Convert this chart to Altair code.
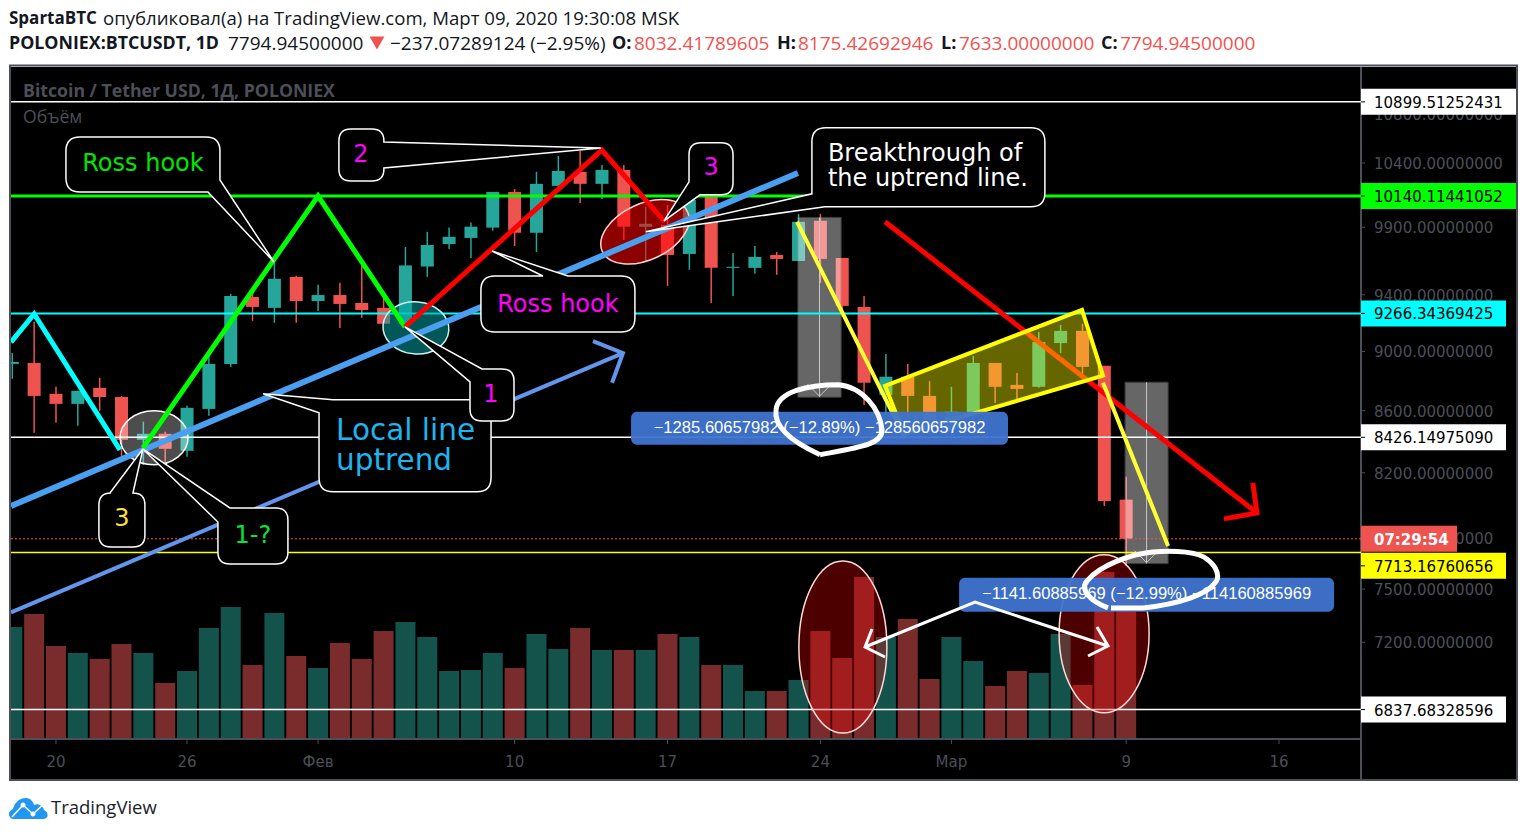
import altair as alt
import pandas as pd

# ---- data -----------------------------------------------------------------
days = list(range(-2, 50))   # days after 20 Jan 2020
opens = [8914,8921,8712,8645,8752,8691,8410,8449,8339,8612,8914,9384,9306,9530,9355,9398,9341,9306,9193,9606,9773,9819,9897,10172,9858,10219,10330,10235,10345,9903,9918,9699,10140,9596,9596,9691,9647,9949,9669,9313,8705,8827,8698,8475,8573,8921,8772,8759,9058,9143,8901,8032.42]
closes = [8928,8698,8645,8732,8691,8410,8449,8352,8619,8914,9391,9313,9516,9355,9398,9334,9291,9193,9614,9766,9827,9904,10172,9858,10235,10337,10235,10345,9904,9926,9691,10109,9596,9604,9677,9662,9941,9662,9320,8786,8827,8698,8541,8593,8921,8759,8745,9065,9143,8894,8024,7794.95]
highs = [8989,9207,8759,8732,8820,8698,8528,8462,8632,8995,9406,9450,9640,9538,9472,9487,9614,9377,9751,9865,9897,9936,10172,10195,10330,10456,10496,10384,10384,10056,10071,10150,10188,9706,9758,9713,10001,10001,9669,9391,8982,8914,8799,8759,8968,8921,8853,9136,9186,9193,8901,8175.43]
lows = [8813,8456,8521,8501,8599,8307,8250,8269,8301,8567,8894,9214,9200,9200,9284,9164,9235,9193,9193,9530,9736,9669,9873,9758,9713,10219,10086,10117,9804,9640,9464,9582,9340,9391,9552,9545,9647,9486,9242,8638,8573,8573,8475,8410,8541,8651,8664,8752,8989,8827,7994,7633]
volumes = [112,125,93,86,80,95,86,56,68,111,132,74,126,83,71,96,80,108,117,102,68,69,86,71,105,90,111,89,89,89,105,102,74,74,48,48,59,108,81,162,102,120,60,102,78,53,68,66,105,54,167,140]

price_ticks = [10800,10400,9900,9400,9000,8600,8200,7800,7500,7200,6820]
time_ticks = [0,6,12,21,28,35,41,49,56]
time_labels = ["20","26","Фев","10","17","24","Мар","9","16"]

level_prices = [10899.51252431,10140.11441052,9266.34369425,8426.14975090,7713.16760656,6837.68328596]
tag_prices = [10899.51252431,10140.11441052,9266.34369425,8426.14975090,7635,6837.68328596]
level_colors = ["#ffffff","#00ff00","#00ffff","#ffffff","#ffff00","#ffffff"]
level_widths = [1.5,3,2,1.5,1.5,1.5]
level_tags = [155,155,145,145,145,145]
last_price = 7794.945

TEAL, RED = "#26a69a", "#ef5350"
VTEAL, VRED = "#14534c", "#7a2b2b"
GRAY = "#4c4e58"
FONT = "DejaVu Sans"
HFONT = "Open Sans"

# ---- scales ---------------------------------------------------------------
W, H = 1505, 712
AX_X, AX_Y = 1350, 672
xs = alt.Scale(domain=[-2.06, 66.85], range=[0, W], nice=False, zero=False)
ys = alt.Scale(type="log", domain=[6685, 11195], range=[AX_Y, 0], nice=False)
vs = alt.Scale(domain=[0, 200], range=[AX_Y, AX_Y - 200], nice=False, zero=True)
X = alt.X("d:Q", scale=xs, axis=None)
Y = alt.Y("p:Q", scale=ys, axis=None)
Y2 = alt.Y2("p2:Q")
one = lambda d, p: pd.DataFrame({"d": [d], "p": [p]})

# ---- helpers --------------------------------------------------------------
def line(ds, ps, color, w):
    df = pd.DataFrame({"d": ds, "p": ps, "i": range(len(ds))})
    return alt.Chart(df).mark_line(color=color, strokeWidth=w, strokeCap="butt", strokeJoin="miter", clip=False).encode(
        x=X, y=Y, order="i:Q")

def shape(d, p, path, fill=None, stroke="#fff", sw=1.5, fo=1.0, angle=0):
    kw = dict(shape=path, size=4, stroke=stroke, strokeWidth=sw, opacity=1, angle=angle)
    if fill:
        kw.update(filled=True, fill=fill, fillOpacity=fo)
    else:
        kw.update(filled=False)
    return alt.Chart(one(d, p)).mark_point(**kw).encode(x=X, y=Y)

def ellipse(d, p, rx, ry, fill, fo, stroke, angle=0):
    path = f"M{-rx} 0A{rx} {ry} 0 1 1 {rx} 0A{rx} {ry} 0 1 1 {-rx} 0Z"
    return shape(d, p, path, fill=fill, stroke=stroke, sw=1.5, fo=fo, angle=angle)

def bubble(x0, y0, x1, y1, a, b, where, r=14):
    tail = f"L{a[0]} {a[1]}L0 0L{b[0]} {b[1]}"
    s = f"M{x0+r} {y0}"
    if where == "T": s += tail
    s += f"L{x1-r} {y0}Q{x1} {y0} {x1} {y0+r}"
    if where == "R": s += tail
    s += tail if where == "BR" else f"L{x1} {y1-r}Q{x1} {y1} {x1-r} {y1}"
    s += tail if where == "BL" else f"L{x0+r} {y1}Q{x0} {y1} {x0} {y1-r}"
    s += tail if where == "TL" else f"L{x0} {y0+r}Q{x0} {y0} {x0+r} {y0}"
    return s + "Z"

def label(d, p, txt, dx, dy, color, size=24, align="center"):
    return alt.Chart(one(d, p)).mark_text(text=txt, dx=dx, dy=dy + 1.5, color=color, fontSize=size, font=FONT,
                                          align=align, baseline="middle").encode(x=X, y=Y)

def header(txt, x, y, color="#131722", bold=False, size=19, font=HFONT):
    return alt.Chart(one(0, 0)).mark_text(text=txt, color=color, fontSize=size, font=font, align="left", baseline="middle",
                                          fontWeight="bold" if bold else "normal").encode(
        x=alt.value(x), y=alt.value(y))

def logo_part(path, fill=None, stroke=None, sw=0):
    kw = dict(shape=path, size=4, opacity=1, strokeWidth=sw)
    if fill:
        kw.update(filled=True, fill=fill, stroke=fill)
    else:
        kw.update(filled=False, stroke=stroke)
    return alt.Chart(one(0, 0)).mark_point(**kw).encode(x=alt.value(17), y=alt.value(742))

# ---- base marks -----------------------------------------------------------
cdf = pd.DataFrame({"d": days, "o": opens, "c": closes, "h": highs, "l": lows, "v": volumes})
cdf["col"] = [TEAL if c >= o else RED for o, c in zip(opens, closes)]
cdf["vcol"] = [VTEAL if c >= o else VRED for o, c in zip(opens, closes)]
cdf["zero"] = 0

vol = alt.Chart(cdf).mark_rule(strokeWidth=20, clip=True).encode(
    x=X, y=alt.Y("v:Q", scale=vs, axis=None), y2="zero:Q",
    color=alt.Color("vcol:N", scale=None))

wicks = alt.Chart(cdf).mark_rule(strokeWidth=1.5, clip=True).encode(
    x=X, y=alt.Y("l:Q", scale=ys, axis=None), y2="h:Q", color=alt.Color("col:N", scale=None))
bodies = alt.Chart(cdf).mark_rule(strokeWidth=13, clip=True).encode(
    x=X, y=alt.Y("o:Q", scale=ys, axis=None), y2="c:Q", color=alt.Color("col:N", scale=None))

layers = [wicks, bodies]

# axis frame lines, ticks and labels
layers.append(alt.Chart(one(0, 0)).mark_rule(color=GRAY, strokeWidth=2).encode(x=alt.value(AX_X)))
layers.append(alt.Chart(one(0, 0)).mark_rule(color=GRAY, strokeWidth=2).encode(
    x=alt.value(0), x2=alt.value(AX_X), y=alt.value(AX_Y)))
pt = pd.DataFrame({"p": price_ticks, "t": [f"{v:.8f}" for v in price_ticks]})
layers.append(alt.Chart(pt).mark_rule(color=GRAY, strokeWidth=1).encode(y=Y, x=alt.value(AX_X), x2=alt.value(AX_X + 4)))
layers.append(alt.Chart(pt).mark_text(color=GRAY, fontSize=15, dy=1, font=FONT, align="left", baseline="middle").encode(
    y=Y, x=alt.value(AX_X + 13), text="t:N"))
tt = pd.DataFrame({"d": time_ticks, "t": time_labels})
layers.append(alt.Chart(tt).mark_rule(color=GRAY, strokeWidth=1).encode(x=X, y=alt.value(AX_Y), y2=alt.value(AX_Y + 5)))
layers.append(alt.Chart(tt).mark_text(color=GRAY, fontSize=15, font=FONT, baseline="middle").encode(
    x=X, y=alt.value(AX_Y + 23), text="t:N"))

# measure rectangles
for d0, d1, top, bot in [(33.97, 35.95, 9975, 8690), (48.95, 50.92, 8790, 7648)]:
    mid = (d0 + d1) / 2
    df = pd.DataFrame({"d": [d0], "d2": [d1], "p": [top], "p2": [bot]})
    layers.append(alt.Chart(df).mark_rect(fill="#ffffff", opacity=0.4, stroke="#9a9a9a", strokeWidth=1).encode(
        x=X, x2="d2:Q", y=Y, y2=Y2))
    df2 = pd.DataFrame({"d": [mid], "p": [top], "p2": [bot]})
    layers.append(alt.Chart(df2).mark_rule(color="#c8c8c8", strokeWidth=1).encode(x=X, y=Y, y2=Y2))
    layers.append(shape(mid, bot, "M-12 -13L0 -1L12 -13", stroke="#c8c8c8", sw=1))

# price levels
for p, c, w in zip(level_prices, level_colors, level_widths):
    layers.append(alt.Chart(one(0, p)).mark_rule(color=c, strokeWidth=w).encode(y=Y, x=alt.value(0), x2=alt.value(AX_X)))
layers.append(alt.Chart(one(0, last_price)).mark_rule(color=RED, strokeWidth=1, strokeDash=[2, 2]).encode(
    y=Y, x=alt.value(0), x2=alt.value(AX_X)))

# ellipses
layers += [
    ellipse(26.97, 9865, 47, 28, "#ff0000", 0.55, "#ffd0d0", angle=335),
    ellipse(16.48, 9164, 33, 26, "#00a0a0", 0.55, "#c8f5f0", angle=5),
    ellipse(4.49, 8423, 34, 27, "#ffffff", 0.3, "#ffffff"),
    ellipse(36.03, 7174, 44, 86, "#ff0000", 0.3, "#ffd8d8"),
    ellipse(47.99, 7247, 45, 79, "#ff0000", 0.3, "#ffd8d8"),
]

# trend lines
layers += [
    line([-2.06, 33.97], [7994, 10321], "#4a9ff0", 6),
    line([-2.06, 25.96], [7367, 8989], "#6495ed", 4),
    line([24.59, 25.96, 25.46], [9072, 8989, 8786], "#6495ed", 4),
    line([-2.06, -1.0, 2.93], [9065, 9263, 8345], "#00ffff", 5),
    line([3.98, 12.0, 15.98], [8358, 10140, 9171], "#00ff00", 5),
    line([15.98, 24.99, 27.88], [9171, 10504, 9941], "#ff0000", 5),
    line([37.96, 54.99], [9941, 7951], "#ff0000", 5),
    line([54.8, 54.99, 53.48], [8137, 7951, 7915], "#ff0000", 5),
    line([33.93, 38.87], [9941, 8423], "#ffff33", 4),
    line([47.94, 50.92], [8786, 7752], "#ffff33", 4),
]
# rising flag
layers.append(shape(37.96, 8766, "M0 0L197 -76L218 -10L19 48Z", fill="#ffff00", stroke="#ffff00", sw=4, fo=0.4))

# callouts
bub = [
    (9.98, 9640, (-208, -125, -54, -70, (-54, -82), (-66, -70), "BR", 14)),
    (24.95, 10520, (-262, -19, -217, 33, (-217, -6), (-217, 20), "R", 12)),
    (9.48, 8712, (56, 6, 228, 98, (56, 19), (70, 6), "TL", 14)),
    (15.98, 9171, (65, 42, 109, 94, (65, 55), (77, 42), "TL", 12)),
    (19.96, 9721, (-11, 25, 143, 81, (51, 25), (76, 25), "T", 14)),
    (27.84, 9949, (25, -78, 69, -26, (36, -26), (25, -39), "BL", 12)),
    (27.01, 9865, (166, -104, 399, -25, (179, -25), (166, -38), "BL", 14)),
    (3.98, 8351, (-44, 44, 2, 98, (-33, 44), (-10, 44), "T", 12)),
    (3.98, 8351, (75, 59, 145, 115, (75, 73), (87, 59), "TL", 12)),
]
for d, p, a in bub:
    layers.append(shape(d, p, bubble(*a), fill="#000000", stroke="#ffffff", sw=1.5))
layers += [
    label(9.98, 9640, "Ross hook", -131, -99, "#00e600"),
    label(24.95, 10520, "2", -240, 5, "#ff00ff"),
    label(15.98, 9171, "1", 86, 67, "#ff00ff"),
    label(19.96, 9721, "Ross hook", 66, 52, "#ff00ff"),
    label(27.84, 9949, "3", 47, -54, "#ff00ff"),
    label(27.01, 9865, "Breakthrough of", 182, -79, "#ffffff", align="left"),
    label(27.01, 9865, "the uptrend line.", 182, -54, "#ffffff", align="left"),
    label(9.48, 8712, "Local line", 73, 36, "#1eb4ee", size=29.5, align="left"),
    label(9.48, 8712, "uptrend", 73, 66, "#1eb4ee", size=29.5, align="left"),
    label(3.98, 8351, "3", -21, 69, "#ffe135"),
    label(3.98, 8351, "1-?", 110, 86, "#00e640"),
]

# measure labels
for d0, d1, top, bot, mid, txt in [
    (26.33, 43.59, 8593, 8378, 8485, "−1285.60657982 (−12.89%) −128560657982"),
    (41.35, 58.52, 7565, 7370, 7472, "−1141.60885969 (−12.99%) −114160885969"),
]:
    df = pd.DataFrame({"d": [d0], "d2": [d1], "p": [top], "p2": [bot]})
    layers.append(alt.Chart(df).mark_rect(fill="#3f74d0", opacity=0.95, cornerRadius=6).encode(
        x=X, x2="d2:Q", y=Y, y2=Y2))
    layers.append(alt.Chart(one((d0 + d1) / 2, mid)).mark_text(text=txt, color="#ffffff", fontSize=16.6, font="Liberation Sans",
                                                               baseline="middle").encode(x=X, y=Y))

# hand-drawn marks
layers += [
    shape(35.35, 8541, "M-8 35C-30 25 -55 10 -52 -10C-50 -28 -20 -35 10 -35C35 -33 52 -10 54 10C55 25 30 28 -8 35", sw=5),
    shape(50.09, 7553, "M-42 28C-58 22 -72 10 -62 0C-50 -14 -20 -26 3 -28C25 -30 50 -28 58 -20C68 -12 70 -2 65 3C58 14 30 24 -7 28L-39 28", sw=5),
    shape(42.08, 7426, "M-110 45L0 0L133 44M-103 27L-110 45L-90 55M122 25L133 44L113 54", sw=3),
]

# price tags
tag_text = [f"{p:.8f}" for p in level_prices]
for p, c, w, t in zip(tag_prices, level_colors, level_tags, tag_text):
    layers.append(alt.Chart(one(0, p)).mark_rule(color=c, strokeWidth=26).encode(
        y=Y, x=alt.value(AX_X), x2=alt.value(AX_X + w)))
    layers.append(alt.Chart(one(0, p)).mark_rule(color="#000000", strokeWidth=1).encode(
        y=Y, x=alt.value(AX_X), x2=alt.value(AX_X + 4)))
    layers.append(alt.Chart(one(0, p)).mark_text(text=t, color="#000000", fontSize=15, dy=1, font=FONT, align="left",
                                                 baseline="middle").encode(y=Y, x=alt.value(AX_X + 13)))
layers.append(alt.Chart(one(0, last_price)).mark_rule(color=RED, strokeWidth=26).encode(
    y=Y, x=alt.value(AX_X), x2=alt.value(AX_X + 96)))
layers.append(alt.Chart(one(0, last_price)).mark_text(text="07:29:54", color="#ffffff", fontSize=15, dy=1, font=FONT, fontWeight="bold",
                                                      align="left", baseline="middle").encode(y=Y, x=alt.value(AX_X + 13)))

# outer frame
layers.append(alt.Chart(one(0, 0)).mark_rect(fillOpacity=0, stroke=GRAY, strokeWidth=2).encode(
    x=alt.value(-1), x2=alt.value(W + 1), y=alt.value(-1.5), y2=alt.value(H + 1)))

# chart texts
layers += [
    header("Bitcoin / Tether USD, 1Д, POLONIEX", 12, 25, color=GRAY, bold=True, size=17.7),
    header("Объём", 12, 51, color=GRAY, size=17.7),
    header("SpartaBTC", -2, -48, bold=True, size=17),
    header("опубликовал(а) на TradingView.com, Март 09, 2020 19:30:08 MSK", 92, -48, size=18.6),
    header("POLONIEX:BTCUSDT, 1D", -2, -23, bold=True, size=17.8),
    header("7794.94500000", 217, -23),
    header("−237.07289124 (−2.95%)", 379, -23),
    header("O:", 601, -23, bold=True, size=18),
    header("8032.41789605", 623, -23, color=RED),
    header("H:", 766, -23, bold=True, size=18),
    header("8175.42692946", 787, -23, color=RED),
    header("L:", 930, -23, bold=True, size=18),
    header("7633.00000000", 948, -23, color=RED),
    header("C:", 1090, -23, bold=True, size=18),
    header("7794.94500000", 1109, -23, color=RED),
    alt.Chart(one(0, 0)).mark_point(shape="triangle-down", filled=True, fill=RED, size=220, opacity=1, stroke=RED, strokeWidth=0).encode(
        x=alt.value(366), y=alt.value(-24)),
    # logo
    logo_part("M-14 10C-20 10 -21 2 -15 0C-13 -9 -3 -14 3 -9C5 -7 6 -5 6 -4C10 -6 15 -3 16 1C21 3 21 10 15 10Z", fill="#2196f3"),
    logo_part("M-16 8L-5 -4L5 5L17 -6", stroke="#ffffff", sw=1.5),
    logo_part("M-7.5 -4A2.5 2.5 0 1 0 -2.5 -4A2.5 2.5 0 1 0 -7.5 -4ZM2.5 5A2.5 2.5 0 1 0 7.5 5A2.5 2.5 0 1 0 2.5 5Z", fill="#ffffff"),
    header("TradingView", 40, 741, size=18.5, color="#20232c"),
]

chart = alt.layer(vol, alt.layer(*layers)).resolve_scale(y="independent").properties(
    width=W, height=H,
    padding={"left": 3, "top": 59, "right": 3, "bottom": 48},
    autosize=alt.AutoSizeParams(type="none"),
    background="#ffffff",
).configure_view(fill="#000000", stroke=None)

chart.save("out.html", embed_options={"renderer": "svg", "actions": False})
